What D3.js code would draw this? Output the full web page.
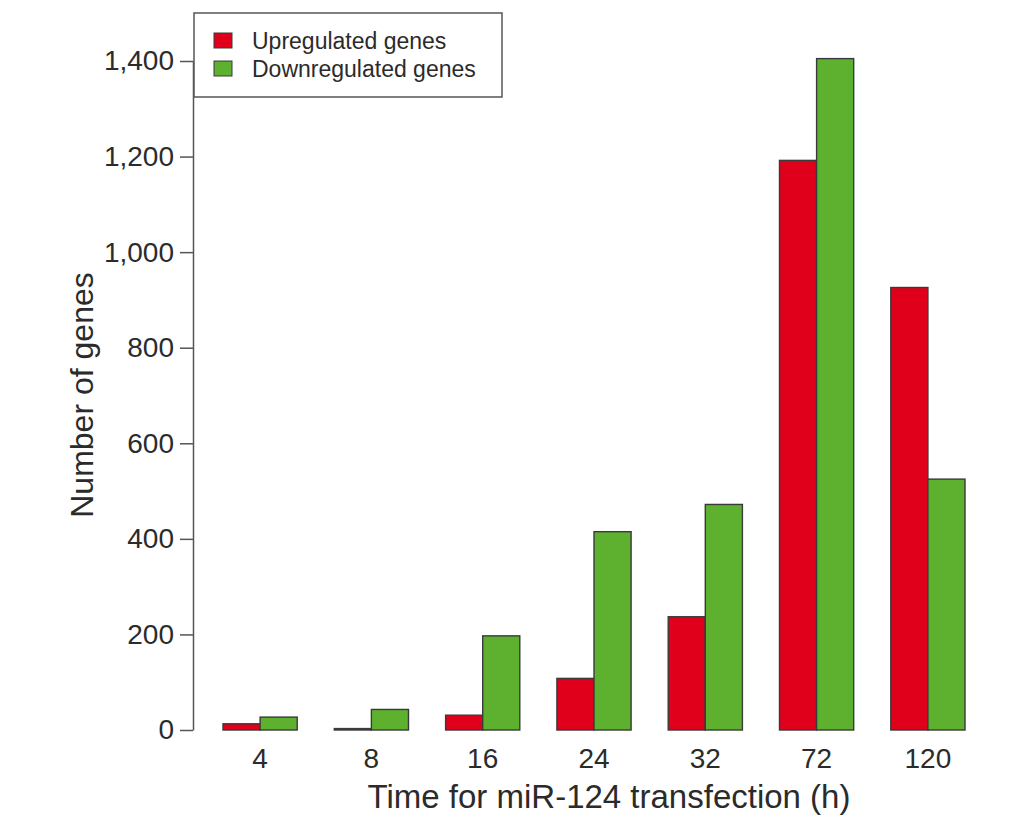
<!DOCTYPE html>
<html>
<head>
<meta charset="utf-8">
<script src="https://cdn.jsdelivr.net/npm/d3@7"></script>
<style>
  body { margin: 0; background: #fff; }
  text { font-family: "Liberation Sans", Arial, sans-serif; fill: #2b2b2b; }
</style>
</head>
<body>
<div id="chart"></div>
<script>
const times = ["4", "8", "16", "24", "32", "72", "120"];
const upregulated = [13, 3, 31, 108, 237, 1192, 926];
const downregulated = [27, 43, 197, 415, 472, 1405, 525];
const yTicks = [0, 200, 400, 600, 800, 1000, 1200, 1400];
const seriesNames = ["Upregulated genes", "Downregulated genes"];
const seriesColors = ["#e0001b", "#5db12f"];

const width = 1033;
const height = 827;

const svg = d3.select("#chart").append("svg")
  .attr("width", width)
  .attr("height", height);

const x = d3.scaleBand()
  .domain(times)
  .range([223, 965])
  .paddingInner(1 / 3)
  .paddingOuter(0);

const xSub = d3.scaleBand()
  .domain([0, 1])
  .range([0, x.bandwidth()]);

const y = d3.scaleLinear()
  .domain([0, 1400])
  .range([730, 61]);

const rows = times.map((t, i) => ({ t, vals: [upregulated[i], downregulated[i]] }));

const groups = svg.selectAll(".grp")
  .data(rows)
  .enter()
  .append("g")
  .attr("transform", d => `translate(${x(d.t)},0)`);

groups.selectAll("rect")
  .data(d => d.vals.map((v, k) => ({ v, k })))
  .enter()
  .append("rect")
  .attr("x", d => xSub(d.k))
  .attr("y", d => y(d.v))
  .attr("width", xSub.bandwidth())
  .attr("height", d => y(0) - y(d.v))
  .attr("fill", d => seriesColors[d.k])
  .attr("stroke", "#3a3a3a")
  .attr("stroke-width", 1.4);

// y axis
const yAxis = svg.append("g")
  .attr("transform", "translate(193,0)")
  .call(d3.axisLeft(y).tickValues(yTicks).tickSize(13).tickSizeOuter(0).tickPadding(6)
    .tickFormat(d3.format(",")));
yAxis.selectAll("line, path").attr("stroke", "#555").attr("stroke-width", 1.5);
yAxis.selectAll("text")
  .style("font-size", "28px")
  .style("font-family", "'Liberation Sans', Arial, sans-serif")
  .attr("fill", "#2b2b2b");

// x labels (no axis line)
const xAxis = svg.append("g")
  .attr("transform", "translate(0,740)")
  .call(d3.axisBottom(x).tickSize(0).tickPadding(8));
xAxis.select(".domain").remove();
xAxis.selectAll("text")
  .style("font-size", "28px")
  .style("font-family", "'Liberation Sans', Arial, sans-serif")
  .attr("fill", "#2b2b2b");

// axis titles
svg.append("text")
  .attr("x", 609)
  .attr("y", 808)
  .attr("text-anchor", "middle")
  .style("font-size", "33px")
  .text("Time for miR-124 transfection (h)");

svg.append("text")
  .attr("transform", "translate(93,395) rotate(-90)")
  .attr("text-anchor", "middle")
  .style("font-size", "32px")
  .text("Number of genes");

// legend
const legend = svg.append("g");
legend.append("rect")
  .attr("x", 194)
  .attr("y", 13)
  .attr("width", 308)
  .attr("height", 84)
  .attr("fill", "#fff")
  .attr("stroke", "#555")
  .attr("stroke-width", 1.5);

const items = legend.selectAll(".item")
  .data(seriesNames)
  .enter()
  .append("g")
  .attr("transform", (d, i) => `translate(214,${33 + i * 28})`);

items.append("rect")
  .attr("width", 18)
  .attr("height", 15)
  .attr("fill", (d, i) => seriesColors[i])
  .attr("stroke", "#3a3a3a")
  .attr("stroke-width", 1);

items.append("text")
  .attr("x", 38)
  .attr("y", 16)
  .style("font-size", "23px")
  .text(d => d);
</script>
</body>
</html>
